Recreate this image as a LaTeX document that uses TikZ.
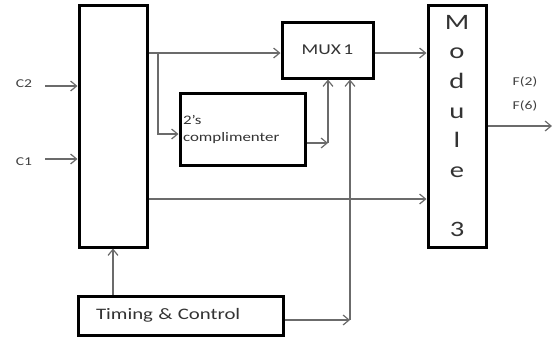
\documentclass[tikz,border=0pt]{standalone}
\usepackage{fontspec}
\setmainfont{Carlito}[FakeStretch=1.3]
\usetikzlibrary{arrows.meta}
\begin{document}
\begin{tikzpicture}[x=1pt,y=-1pt,
  blk/.style={draw=black,line width=3pt,inner sep=0pt},
  conn/.style={draw=black!58,line width=1.3pt,-{Straight Barb[length=6pt,width=10pt,line width=1.2pt]}},
  lbl/.style={font=\fontsize{12}{14}\selectfont,text=black!75,inner sep=0pt}]
\useasboundingbox (0,0) rectangle (555,338);
% boxes
\node[blk,minimum width=68pt,minimum height=242pt] (reg) at (113,126) {};
\node[blk,minimum width=91pt,minimum height=56pt,font=\fontsize{15}{17}\selectfont,text=black!80] (mux) at (327.5,50) {MUX\,1};
\node[blk,minimum width=58pt,minimum height=242pt,align=center,font=\fontsize{22}{29.6}\selectfont,text=black!80] (mod) at (457,126) {M\\o\\d\\u\\l\\e\\[29.6pt]3};
\node[blk,minimum height=72pt,text width=119pt,inner xsep=3pt,align=left,font=\fontsize{13}{17}\selectfont,text=black!80] (comp) at (242.5,129) {2’s\\complimenter};
\node[blk,minimum height=39pt,text width=199pt,inner xsep=3pt,align=left,font=\fontsize{16}{18}\selectfont,text=black!80] (tc) at (180.5,315.5) {\hspace*{15pt}Timing \& Control};
% labels
\node[lbl] (c2) at (24,84) {C2};
\node[lbl] (c1) at (24,162) {C1};
\node[lbl] (f2) at (525,82) {F(2)};
\node[lbl] (f6) at (525,106) {F(6)};
% free ends / joints
\coordinate (c2s) at (45,86);
\coordinate (c1s) at (45,159);
\coordinate (br) at (158,53);
\coordinate (cj) at (328,143);
\coordinate (tj) at (350,320);
\coordinate (out) at (552,126);
% connectors
\draw[conn] (c2s) -- (c2s -| reg.west);
\draw[conn] (c1s) -- (c1s -| reg.west);
\draw[conn] (br -| reg.east) -- (br -| mux.west);
\draw[conn] (br) |- (comp.west |- 0,134);
\draw[conn] (cj -| comp.east) -- (cj);
\draw[conn] (cj) -- (cj |- mux.south);
\draw[conn] (tj -| tc.east) -- (tj);
\draw[conn] (tj) -- (tj |- mux.south);
\draw[conn] (mux.east |- br) -- (mod.west |- br);
\draw[conn] (reg.east |- 0,199) -- (mod.west |- 0,199);
\draw[conn] (tc.north -| reg.south) -- (reg.south);
\draw[conn] (mod.east |- out) -- (out);
\end{tikzpicture}
\end{document}
